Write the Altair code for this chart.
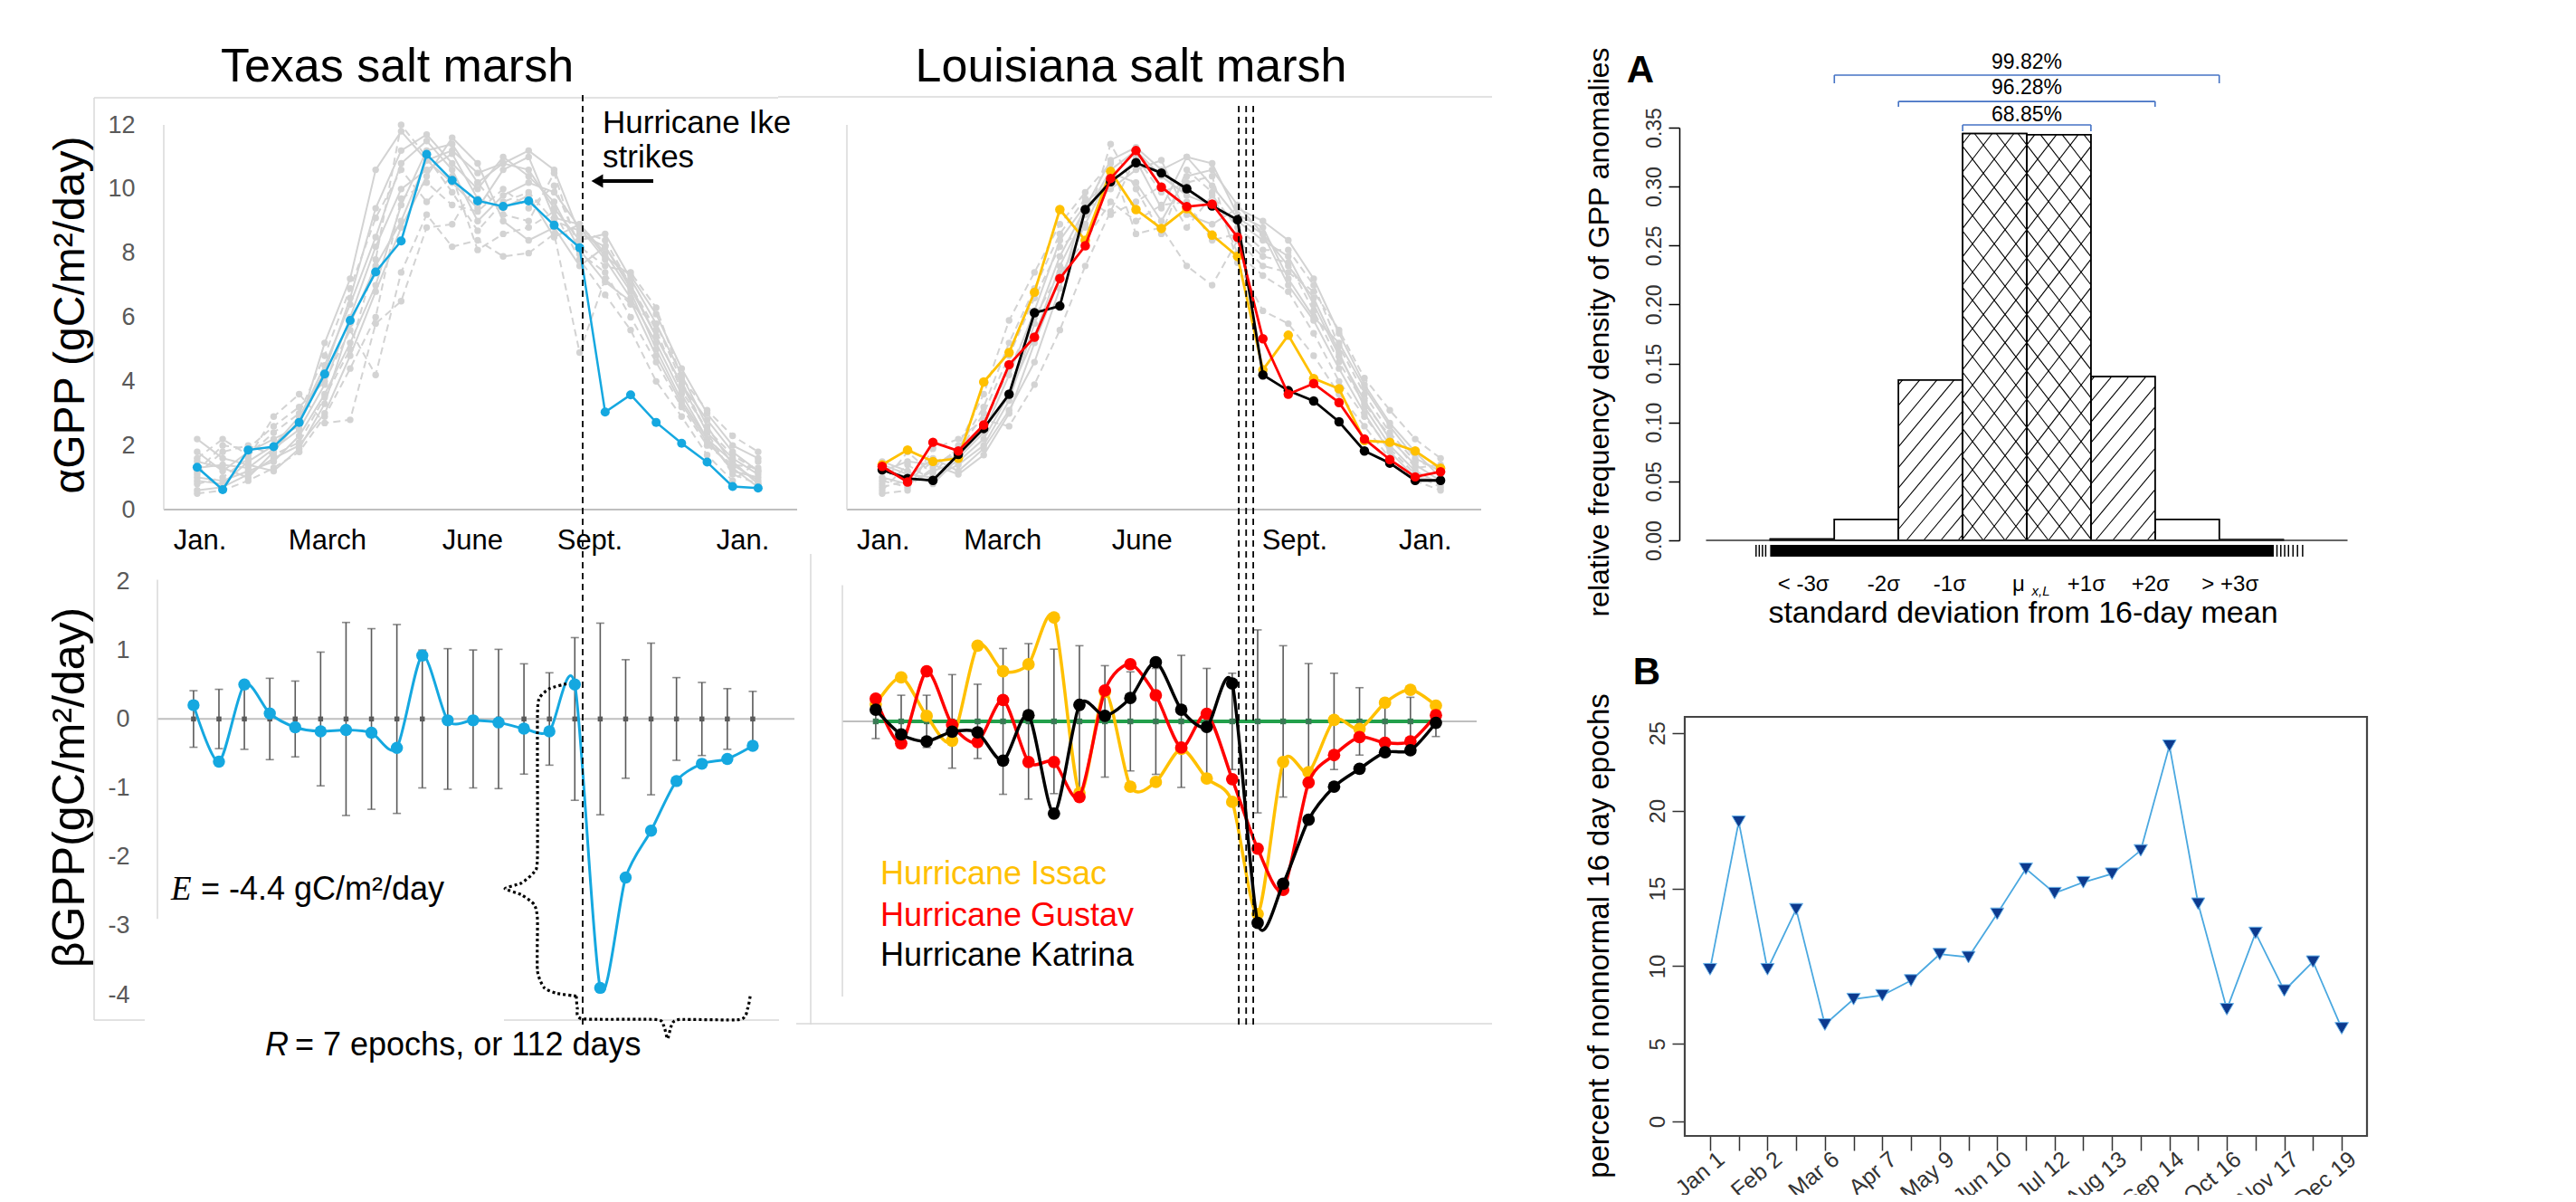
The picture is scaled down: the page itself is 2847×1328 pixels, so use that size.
import math
import altair as alt
import pandas as pd

W, H = 2831, 1312
SANS = "Liberation Sans, Arial, Helvetica, sans-serif"
NARROW = "Liberation Sans Narrow, Liberation Sans, Arial, sans-serif"
SERIF = "Liberation Serif, Times New Roman, serif"

BLUE = "#15a8e0"
GOLD = "#ffc000"
RED = "#ff0000"
BLACK = "#000000"
GRAY_LINE = "#d3d3d3"
ERR_GRAY = "#5a5a5a"
AXIS_GRAY = "#bfbfbf"
FRAME_GRAY = "#d9d9d9"
GREEN = "#22a04b"
BRACKET_BLUE = "#4472c4"

EPOCHS = list(range(23))

# ---------------- Texas salt marsh : alpha GPP ----------------
TX_ALPHA_IKE = [1.32, 0.62, 1.86, 1.96, 2.72, 4.23, 5.9, 7.41, 8.38, 11.08, 10.27, 9.63,
                9.46, 9.63, 8.87, 8.17, 3.04, 3.58, 2.72, 2.07, 1.48, 0.72, 0.67]
TX_ALPHA_YEARS_SOLID = [
    [1.0, 0.9, 1.2, 1.5, 2.3, 3.6, 5.2, 7.0, 9.5, 11.2, 11.4, 10.2, 10.8, 10.6, 9.4, 8.4, 8.6, 7.2, 5.8, 4.2, 2.6, 1.4, 0.9],
    [1.5, 1.3, 1.0, 1.8, 2.8, 4.5, 6.4, 8.5, 10.8, 11.5, 10.6, 9.0, 9.8, 10.2, 9.9, 8.8, 7.8, 6.6, 5.2, 3.6, 2.2, 1.2, 1.0],
    [0.6, 0.7, 1.1, 1.6, 2.0, 3.0, 4.8, 6.8, 8.8, 10.4, 11.6, 10.8, 9.0, 8.4, 8.8, 7.6, 8.2, 6.9, 5.4, 3.9, 2.8, 1.8, 1.2],
    [2.2, 1.6, 1.4, 1.2, 1.9, 3.3, 5.8, 7.6, 9.0, 10.9, 10.2, 9.4, 10.6, 11.0, 9.1, 8.9, 7.9, 7.3, 6.1, 4.4, 3.0, 2.0, 1.6],
    [1.8, 1.2, 1.8, 2.2, 2.6, 5.2, 7.2, 10.6, 11.8, 10.9, 11.2, 10.5, 10.8, 11.2, 10.6, 8.6, 8.2, 7.0, 5.4, 3.9, 2.4, 1.6, 1.1],
    [1.3, 1.4, 1.3, 1.9, 2.5, 3.9, 6.0, 8.2, 10.0, 10.6, 11.1, 9.7, 9.4, 9.8, 8.5, 8.9, 8.0, 6.8, 5.0, 3.4, 2.2, 1.5, 0.8],
    [0.9, 0.8, 1.5, 2.0, 2.9, 4.3, 6.6, 9.4, 11.2, 11.7, 10.8, 10.0, 11.0, 10.4, 9.6, 8.1, 7.1, 6.5, 4.8, 3.3, 2.1, 1.3, 0.7],
]
TX_ALPHA_YEARS_DASHED = [
    [1.2, 2.0, 1.9, 2.6, 3.2, 4.0, 5.6, 4.2, 7.4, 9.2, 8.2, 8.4, 7.9, 8.0, 8.6, 4.9, 7.2, 6.4, 5.8, 4.0, 2.4, 1.1, 0.8],
    [0.8, 1.0, 1.6, 2.9, 3.6, 2.7, 2.8, 5.8, 6.5, 8.8, 8.9, 10.2, 9.2, 9.0, 10.5, 8.0, 7.4, 6.0, 4.6, 3.2, 2.0, 1.4, 1.3],
    [0.5, 0.6, 0.9, 1.3, 1.8, 2.9, 4.4, 6.0, 9.7, 10.2, 9.5, 9.3, 10.0, 9.4, 10.1, 8.2, 7.6, 7.4, 6.3, 4.1, 3.1, 2.3, 1.8],
    [1.6, 2.2, 1.7, 2.4, 3.0, 4.8, 6.9, 9.1, 10.6, 9.6, 10.4, 8.1, 8.6, 8.8, 9.3, 7.8, 6.7, 5.6, 4.0, 2.9, 1.7, 0.9, 1.5],
    [1.1, 1.8, 2.0, 1.7, 2.1, 3.5, 5.0, 7.8, 12.0, 11.0, 9.9, 8.7, 9.6, 9.9, 9.0, 8.7, 8.4, 7.0, 5.6, 3.7, 2.5, 1.7, 1.2],
]
# ---------------- Texas salt marsh : beta GPP ----------------
TX_BETA_IKE = [0.2, -0.62, 0.5, 0.08, -0.12, -0.18, -0.16, -0.2, -0.42, 0.92, -0.02, -0.02,
               -0.05, -0.14, -0.18, 0.5, -3.9, -2.3, -1.62, -0.9, -0.65, -0.58, -0.39]
TX_BETA_MEAN = [0, 0, 0, 0, 0, 0, 0, 0, 0, 0, 0, 0, 0, 0, 0, 0, 0, 0, 0, 0, 0, 0, 0]
TX_BETA_SD = [0.41, 0.43, 0.44, 0.59, 0.55, 0.97, 1.4, 1.31, 1.37, 1.0, 1.02, 1.0,
              1.01, 0.8, 0.67, 1.18, 1.39, 0.86, 1.1, 0.6, 0.53, 0.44, 0.4]

# ---------------- Louisiana salt marsh : alpha GPP ----------------
LA_ALPHA_ISAAC = [1.4, 1.86, 1.5, 1.6, 3.98, 4.9, 6.78, 9.36, 8.4, 10.55, 9.36, 8.77,
                  9.39, 8.56, 7.9, 4.36, 5.44, 4.09, 3.77, 2.15, 2.1, 1.83, 1.29]
LA_ALPHA_GUSTAV = [1.35, 0.86, 2.1, 1.83, 2.64, 4.52, 5.38, 7.21, 8.23, 10.33, 11.2, 10.06,
                   9.45, 9.53, 8.5, 5.33, 3.6, 3.93, 3.34, 2.2, 1.56, 1.02, 1.18]
LA_ALPHA_KATRINA = [1.24, 0.97, 0.91, 1.72, 2.53, 3.6, 6.14, 6.35, 9.36, 10.23, 10.82, 10.5,
                    10.01, 9.47, 9.04, 4.2, 3.71, 3.39, 2.74, 1.83, 1.45, 0.91, 0.91]
LA_ALPHA_YEARS_SOLID = [
    [1.0, 0.8, 1.2, 1.5, 2.2, 3.6, 5.4, 7.6, 9.2, 10.6, 11.2, 10.4, 9.8, 9.5, 9.0, 8.4, 7.9, 6.4, 4.8, 3.4, 2.2, 1.4, 0.9],
    [1.3, 1.0, 1.6, 1.2, 1.9, 3.1, 4.6, 6.9, 9.6, 10.2, 10.9, 9.4, 11.0, 10.8, 9.2, 8.8, 7.2, 6.0, 5.2, 3.8, 2.6, 1.6, 1.2],
    [1.5, 1.2, 0.8, 1.6, 2.4, 4.2, 6.2, 8.4, 9.5, 10.0, 10.6, 10.9, 9.2, 8.9, 9.4, 9.0, 8.4, 7.2, 5.5, 3.9, 2.7, 1.8, 1.0],
    [1.2, 1.5, 1.4, 1.1, 1.7, 3.0, 5.2, 7.2, 8.9, 10.5, 10.2, 9.0, 10.4, 10.6, 9.5, 8.6, 7.6, 6.6, 4.9, 3.2, 2.0, 1.2, 0.8],
    [1.4, 1.1, 1.0, 1.4, 2.0, 3.4, 5.8, 7.9, 9.4, 10.9, 11.3, 10.6, 11.0, 10.1, 9.1, 8.6, 7.0, 5.9, 4.4, 3.0, 1.8, 1.0, 0.9],
]
LA_ALPHA_YEARS_DASHED = [
    [0.6, 1.4, 0.9, 1.8, 3.0, 4.8, 6.6, 8.2, 8.8, 11.4, 10.0, 8.6, 10.6, 9.9, 8.0, 7.3, 6.8, 5.5, 4.0, 2.9, 1.9, 1.1, 0.7],
    [0.8, 1.8, 1.1, 2.0, 3.6, 5.9, 7.4, 8.9, 9.9, 10.8, 8.6, 8.8, 7.6, 7.0, 8.4, 7.6, 7.4, 6.8, 5.6, 4.1, 3.1, 2.2, 1.6],
    [0.5, 0.6, 1.9, 2.2, 2.8, 2.6, 3.9, 5.6, 7.6, 9.3, 11.0, 9.9, 10.2, 10.4, 7.7, 6.2, 5.8, 4.8, 3.6, 2.6, 1.6, 0.9, 0.6],
    [0.9, 0.7, 1.3, 1.9, 3.2, 5.2, 6.9, 8.6, 9.7, 9.2, 9.6, 10.1, 8.8, 9.8, 8.8, 8.1, 8.1, 7.0, 5.1, 3.6, 2.4, 1.5, 1.3],
    [0.7, 0.9, 1.5, 1.7, 2.6, 4.4, 6.0, 7.4, 8.4, 9.6, 9.0, 9.5, 9.6, 8.4, 8.6, 7.9, 7.7, 6.2, 4.6, 3.3, 2.3, 1.3, 1.4],
]
# ---------------- Louisiana salt marsh : beta GPP ----------------
LA_BETA_ISAAC = [0.25, 0.64, 0.08, -0.28, 1.1, 0.73, 0.83, 1.51, -1.04, 0.43, -0.95, -0.88,
                 -0.4, -0.83, -1.17, -2.8, -0.59, -0.74, 0.02, -0.11, 0.27, 0.46, 0.23]
LA_BETA_GUSTAV = [0.33, -0.32, 0.73, -0.05, -0.3, 0.31, -0.59, -0.59, -1.1, 0.45, 0.83, 0.38,
                  -0.38, 0.11, -0.84, -1.85, -2.45, -0.89, -0.49, -0.23, -0.31, -0.29, 0.09]
LA_BETA_KATRINA = [0.17, -0.19, -0.29, -0.15, -0.16, -0.57, 0.09, -1.34, 0.24, 0.08, 0.34, 0.86,
                   0.17, -0.08, 0.55, -2.93, -2.36, -1.43, -0.95, -0.69, -0.45, -0.42, -0.02]
LA_BETA_MEAN = [0, 0, 0, 0, 0, 0, 0, 0, 0, 0, 0, 0, 0, 0, 0, 0, 0, 0, 0, 0, 0, 0, 0]
LA_BETA_SD = [0.25, 0.38, 0.38, 0.68, 0.54, 1.06, 1.13, 1.05, 1.1, 0.81, 0.72, 0.77,
              0.96, 0.77, 0.7, 1.33, 1.1, 0.84, 0.7, 0.49, 0.33, 0.35, 0.22]

MONTH_LABELS = ["Jan.", "March", "June", "Sept.", "Jan."]
TX_MONTH_POS = [0.11, 5.11, 10.8, 15.4, 21.4]
LA_MONTH_POS = [0.05, 4.75, 10.24, 16.25, 21.4]
TX_IKE_EPOCH = [15.12]
LA_STRIKE_EPOCHS = [14.05, 14.34, 14.62]
LA_NAMES = ["Hurricane Issac", "Hurricane Gustav", "Hurricane Katrina"]

# brace annotations (in Texas beta panel units: epoch, gC/m2/day)
BRACE_E_X = [14.67, 14.0, 13.6, 13.53, 13.53, 13.4, 12.9, 12.25, 12.9, 13.4, 13.53, 13.53, 13.8, 14.3, 15.06]
BRACE_E_Y = [0.51, 0.44, 0.3, 0.0, -2.0, -2.22, -2.38, -2.46, -2.55, -2.69, -2.9, -3.65, -3.9, -3.98, -4.02]
BRACE_R_X = [15.06, 15.1, 15.3, 18.2, 18.5, 18.65, 18.8, 19.1, 21.5, 21.8, 21.9]
BRACE_R_Y = [-4.02, -4.2, -4.35, -4.36, -4.45, -4.64, -4.45, -4.36, -4.36, -4.2, -4.02]

# ---------------- Panel A : histogram ----------------
HIST_LO = [-4, -3, -2, -1, 0, 1, 2, 3]
HIST_HI = [-3, -2, -1, 0, 1, 2, 3, 4]
HIST_DENSITY = [0.0012, 0.0178, 0.136, 0.345, 0.344, 0.139, 0.0178, 0.0006]
HIST_FILL = ["plain", "plain", "diagonal", "cross", "cross", "diagonal", "plain", "plain"]
SIGMA_LABELS = ["< -3σ", "-2σ", "-1σ", "μ", "+1σ", "+2σ", "> +3σ"]
SIGMA_POS = [-3.48, -2.23, -1.2, -0.13, 0.93, 1.93, 3.17]
BRACKET_TEXT = ["99.82%", "96.28%", "68.85%"]
BRACKET_HALF = [3, 2, 1]
BRACKET_Y = [0.3945, 0.3722, 0.3523]
BRACKET_END_Y = [0.3876, 0.3676, 0.3469]
BRACKET_TEXT_Y = [0.405, 0.3838, 0.3609]
RUG_BAND = [-4.0, 3.85]
RUG_FRINGE = [-4.22, -4.17, -4.12, -4.07, 3.9, 3.96, 4.02, 4.08, 4.15, 4.22, 4.3]
A_YTICKS = [0.0, 0.05, 0.1, 0.15, 0.2, 0.25, 0.3, 0.35]

# ---------------- Panel B ----------------
B_PERCENT = [9.8, 19.3, 9.8, 13.66, 6.24, 7.88, 8.12, 9.08, 10.77, 10.58, 13.37, 16.27,
             14.7, 15.4, 15.95, 17.45, 24.19, 14.02, 7.23, 12.14, 8.43, 10.29, 6.0]
B_TICK_LABELS = ["Jan 1", "", "Feb 2", "", "Mar 6", "", "Apr 7", "", "May 9", "", "Jun 10", "",
                 "Jul 12", "", "Aug 13", "", "Sep 14", "", "Oct 16", "", "Nov 17", "", "Dec 19"]
B_YTICKS = [0, 5, 10, 15, 20, 25]

# =====================================================================
ONE = pd.DataFrame({"a": [0]})


def S(dom, rng):
    return alt.Scale(domain=dom, range=rng, nice=False, zero=False)


TXT_SX = S([-1.31, 23.53], [173, 873]); TXT_SY = S([0, 12], [555, 130])
LAT_SX = S([-1.39, 23.6], [928, 1629]); LAT_SY = S([0, 12], [555, 130])
TXB_SX = S([-1.42, 23.64], [166, 870]); TXB_SY = S([-4, 2], [1091, 634])
LAB_SX = S([-1.31, 23.6], [923, 1624]); LAB_SY = S([-4, 2], [1093, 637])
A_DX, A_RX = [-5, 5], [1877.5, 2586.5]
A_DY, A_RY = [0, 0.35], [589, 133]
A_SX = S(A_DX, A_RX); A_SY = S(A_DY, A_RY)
B_SX = S([-0.88, 22.88], [1854, 2608]); B_SY = S([-0.93, 26.05], [1247, 784])


def XY(sx, sy, xf="x", yf="y", xaxis=None, yaxis=None):
    return {"x": alt.X(f"{xf}:Q", scale=sx, axis=xaxis),
            "y": alt.Y(f"{yf}:Q", scale=sy, axis=yaxis)}


def series_df(xs, ys):
    return pd.DataFrame({"x": xs, "y": ys})


def long_df(list_of_series):
    rows = []
    for k, s in enumerate(list_of_series):
        for i, v in enumerate(s):
            rows.append({"s": k, "x": i, "y": v})
    return pd.DataFrame(rows)


def px_rule(x, x2, y, y2, color, width, dash=None):
    kw = dict(color=color, strokeWidth=width)
    if dash:
        kw["strokeDash"] = dash
    return alt.Chart(ONE).mark_rule(**kw).encode(
        x=alt.value(x), x2=alt.value(x2), y=alt.value(y), y2=alt.value(y2))


def data_rule(df, sx, sy, color, width, dash=None):
    kw = dict(color=color, strokeWidth=width)
    if dash:
        kw["strokeDash"] = dash
    return alt.Chart(df).mark_rule(**kw).encode(**XY(sx, sy), x2="x2:Q", y2="y2:Q")


def px_text(s, x, y, size, align="left", baseline="alphabetic", angle=0, color="black",
            font=SANS, style="normal", weight="normal"):
    kw = dict(text=s, fontSize=size, align=align, baseline=baseline, color=color,
              font=font, fontStyle=style, fontWeight=weight)
    if angle:
        kw["angle"] = angle
    return alt.Chart(ONE).mark_text(**kw).encode(x=alt.value(x), y=alt.value(y))


layers = []

# ---------------- frames (Excel chart borders) ----------------
layers += [
    px_rule(96, 852, 100, 100, FRAME_GRAY, 1.5),
    px_rule(852, 1641, 99, 99, FRAME_GRAY, 1.5),
    px_rule(96, 96, 100, 1119, FRAME_GRAY, 1.5),
    px_rule(96, 152, 1119, 1119, FRAME_GRAY, 1.5),
    px_rule(549, 853, 1119, 1119, FRAME_GRAY, 1.5),
    px_rule(872, 1641, 1123, 1123, FRAME_GRAY, 1.5),
    px_rule(888, 888, 604, 1124, FRAME_GRAY, 1.5),
]

# ---------------- axis lines of the four left panels ----------------
layers += [
    data_rule(pd.DataFrame({"x": [-1.31], "x2": [23.53], "y": [0], "y2": [0]}), TXT_SX, TXT_SY, AXIS_GRAY, 2),
    data_rule(pd.DataFrame({"x": [-1.31], "x2": [-1.31], "y": [0], "y2": [12]}), TXT_SX, TXT_SY, FRAME_GRAY, 1.5),
    data_rule(pd.DataFrame({"x": [-1.39], "x2": [23.6], "y": [0], "y2": [0]}), LAT_SX, LAT_SY, AXIS_GRAY, 2),
    data_rule(pd.DataFrame({"x": [-1.39], "x2": [-1.39], "y": [0], "y2": [12]}), LAT_SX, LAT_SY, FRAME_GRAY, 1.5),
    data_rule(pd.DataFrame({"x": [-1.42], "x2": [23.64], "y": [0], "y2": [0]}), TXB_SX, TXB_SY, AXIS_GRAY, 2),
    data_rule(pd.DataFrame({"x": [-1.42], "x2": [-1.42], "y": [2.02], "y2": [-2.9]}), TXB_SX, TXB_SY, FRAME_GRAY, 1.5),
    data_rule(pd.DataFrame({"x": [-1.31], "x2": [23.6], "y": [0], "y2": [0]}), LAB_SX, LAB_SY, AXIS_GRAY, 2),
    data_rule(pd.DataFrame({"x": [-1.31], "x2": [-1.31], "y": [1.98], "y2": [-4.0]}), LAB_SX, LAB_SY, FRAME_GRAY, 1.5),
]


def gray_bundle(solid, dashed, sx, sy):
    out = []
    ds = long_df(solid)
    dd = long_df(dashed)
    out.append(alt.Chart(ds).mark_line(color=GRAY_LINE, strokeWidth=2).encode(**XY(sx, sy), detail="s:N"))
    out.append(alt.Chart(dd).mark_line(color=GRAY_LINE, strokeWidth=2, strokeDash=[8, 5]).encode(**XY(sx, sy), detail="s:N"))
    out.append(alt.Chart(pd.concat([ds, dd])).mark_circle(color=GRAY_LINE, size=55, opacity=1).encode(**XY(sx, sy)))
    return out


# ---------------- Texas top ----------------
layers += gray_bundle(TX_ALPHA_YEARS_SOLID, TX_ALPHA_YEARS_DASHED, TXT_SX, TXT_SY)
tx_top_yaxis = alt.Axis(orient="left", offset=-173, values=[0, 2, 4, 6, 8, 10, 12], domain=False,
                        ticks=False, tickSize=0, grid=False, labelPadding=32, labelFontSize=27,
                        labelColor="#595959", labelFont=NARROW, labelAlign="right",
                        labelBaseline="middle", title=None, labelExpr="datum.value + ''")
df = series_df(EPOCHS, TX_ALPHA_IKE)
layers.append(alt.Chart(df).mark_line(color=BLUE, strokeWidth=2.5).encode(**XY(TXT_SX, TXT_SY)))
layers.append(alt.Chart(df).mark_circle(color=BLUE, size=100, opacity=1).encode(**XY(TXT_SX, TXT_SY, yaxis=tx_top_yaxis)))

# ---------------- Louisiana top ----------------
layers += gray_bundle(LA_ALPHA_YEARS_SOLID, LA_ALPHA_YEARS_DASHED, LAT_SX, LAT_SY)
for ys, col in [(LA_ALPHA_ISAAC, GOLD), (LA_ALPHA_KATRINA, BLACK), (LA_ALPHA_GUSTAV, RED)]:
    df = series_df(EPOCHS, ys)
    layers.append(alt.Chart(df).mark_line(color=col, strokeWidth=2.8).encode(**XY(LAT_SX, LAT_SY)))
    layers.append(alt.Chart(df).mark_circle(color=col, size=110, opacity=1).encode(**XY(LAT_SX, LAT_SY)))


def error_bars(means, sds, sx, sy):
    d = pd.DataFrame({"x": EPOCHS, "y": [m - s for m, s in zip(means, sds)],
                      "y2": [m + s for m, s in zip(means, sds)], "m": means})
    out = [alt.Chart(d).mark_rule(color=ERR_GRAY, strokeWidth=1.6).encode(**XY(sx, sy), y2="y2:Q")]
    ends = pd.DataFrame({"x": EPOCHS + EPOCHS, "y": list(d["y"]) + list(d["y2"])})
    out.append(alt.Chart(ends).mark_tick(orient="horizontal", size=9, thickness=1.6, color=ERR_GRAY).encode(**XY(sx, sy)))
    return out, d


# ---------------- Texas bottom ----------------
eb, d = error_bars(TX_BETA_MEAN, TX_BETA_SD, TXB_SX, TXB_SY)
layers += eb
layers.append(alt.Chart(series_df(EPOCHS, TX_BETA_MEAN)).mark_square(color=ERR_GRAY, size=30, opacity=1).encode(**XY(TXB_SX, TXB_SY)))
tx_bot_yaxis = alt.Axis(orient="left", offset=-166, values=[-4, -3, -2, -1, 0, 1, 2], domain=False,
                        ticks=False, tickSize=0, grid=False, labelPadding=31, labelFontSize=27,
                        labelColor="#595959", labelFont=NARROW, labelAlign="right",
                        labelBaseline="middle", title=None, labelExpr="datum.value + ''")
df = series_df(EPOCHS, TX_BETA_IKE)
layers.append(alt.Chart(df).mark_line(color=BLUE, strokeWidth=3, interpolate="cardinal", tension=0.2).encode(**XY(TXB_SX, TXB_SY)))
layers.append(alt.Chart(df).mark_circle(color=BLUE, size=180, opacity=1).encode(**XY(TXB_SX, TXB_SY, yaxis=tx_bot_yaxis)))

# ---------------- Louisiana bottom ----------------
eb, d = error_bars(LA_BETA_MEAN, LA_BETA_SD, LAB_SX, LAB_SY)
layers += eb
dm = series_df(EPOCHS, LA_BETA_MEAN)
layers.append(alt.Chart(dm).mark_line(color=GREEN, strokeWidth=4).encode(**XY(LAB_SX, LAB_SY)))
layers.append(alt.Chart(dm).mark_square(color="#3a7a55", size=40, opacity=1).encode(**XY(LAB_SX, LAB_SY)))
for ys, col in [(LA_BETA_ISAAC, GOLD), (LA_BETA_GUSTAV, RED), (LA_BETA_KATRINA, BLACK)]:
    df = series_df(EPOCHS, ys)
    layers.append(alt.Chart(df).mark_line(color=col, strokeWidth=3.5, interpolate="cardinal", tension=0.2).encode(**XY(LAB_SX, LAB_SY)))
    layers.append(alt.Chart(df).mark_circle(color=col, size=190, opacity=1).encode(**XY(LAB_SX, LAB_SY)))

# ---------------- hurricane strike lines ----------------
layers.append(alt.Chart(pd.DataFrame({"x": TX_IKE_EPOCH})).mark_rule(color="black", strokeWidth=1.8, strokeDash=[7, 5]).encode(
    x=alt.X("x:Q", scale=TXT_SX, axis=None), y=alt.value(97), y2=alt.value(1124)))
layers.append(alt.Chart(pd.DataFrame({"x": LA_STRIKE_EPOCHS})).mark_rule(color="black", strokeWidth=1.8, strokeDash=[7, 5]).encode(
    x=alt.X("x:Q", scale=LAT_SX, axis=None), y=alt.value(109), y2=alt.value(1124)))

# ---------------- braces ----------------
brace = pd.DataFrame({"x": BRACE_E_X + BRACE_R_X, "y": BRACE_E_Y + BRACE_R_Y,
                      "s": [0] * len(BRACE_E_X) + [1] * len(BRACE_R_X),
                      "o": list(range(len(BRACE_E_X))) + list(range(len(BRACE_R_X)))})
layers.append(alt.Chart(brace).mark_line(color="black", strokeWidth=3.2, strokeDash=[3, 3],
                                         interpolate="cardinal", tension=0.4).encode(
    **XY(TXB_SX, TXB_SY), detail="s:N", order="o:Q"))

# ---------------- month labels ----------------
layers.append(alt.Chart(pd.DataFrame({"x": TX_MONTH_POS, "t": MONTH_LABELS})).mark_text(
    fontSize=31, font=SANS, baseline="alphabetic").encode(x=alt.X("x:Q", scale=TXT_SX, axis=None), y=alt.value(599), text="t:N"))
layers.append(alt.Chart(pd.DataFrame({"x": LA_MONTH_POS, "t": MONTH_LABELS})).mark_text(
    fontSize=31, font=SANS, baseline="alphabetic").encode(x=alt.X("x:Q", scale=LAT_SX, axis=None), y=alt.value(599), text="t:N"))

# ---------------- Panel A ----------------
A_KX = (A_RX[1] - A_RX[0]) / (A_DX[1] - A_DX[0])
A_KY = (A_RY[0] - A_RY[1]) / (A_DY[1] - A_DY[0])


def hatch(lo, hi, h, direction, slope, step):
    X0, X1, Hp = lo * A_KX, hi * A_KX, h * A_KY
    span = Hp / slope
    rows = []
    k0 = int(math.floor((X0 - span) / step)) - 1
    k1 = int(math.ceil((X1 + span) / step)) + 1
    for k in range(k0, k1 + 1):
        xb = k * step
        if direction > 0:
            a, b = max(xb, X0), min(xb + span, X1)
            if b - a > 0.5:
                rows.append((a / A_KX, b / A_KX, slope * (a - xb) / A_KY, slope * (b - xb) / A_KY))
        else:
            a, b = max(xb - span, X0), min(xb, X1)
            if b - a > 0.5:
                rows.append((a / A_KX, b / A_KX, slope * (xb - a) / A_KY, slope * (xb - b) / A_KY))
    return rows


hrows = []
for lo, hi, h, f in zip(HIST_LO, HIST_HI, HIST_DENSITY, HIST_FILL):
    if f == "diagonal":
        hrows += hatch(lo, hi, h, 1, 1.2, 19)
    elif f == "cross":
        hrows += hatch(lo, hi, h, 1, 1.3, 24)
        hrows += hatch(lo, hi, h, -1, 1.3, 24)
hatch_df = pd.DataFrame(hrows, columns=["x", "x2", "y", "y2"])

a_yaxis = alt.Axis(orient="left", offset=-1848, values=A_YTICKS, format=".2f", tickSize=12,
                   domain=True, domainColor="black", domainWidth=1.5, tickColor="black", tickWidth=1.5,
                   labelAngle=270, labelAlign="center", labelBaseline="bottom", labelPadding=4,
                   labelFontSize=23, labelColor="#333333", labelFont=SANS, grid=False, title=None)
bars = pd.DataFrame({"x": HIST_LO, "x2": HIST_HI, "y": HIST_DENSITY, "y2": [0.0] * len(HIST_LO)})
layers.append(alt.Chart(bars).mark_rect(fill="white", stroke="black", strokeWidth=1.5).encode(
    **XY(A_SX, A_SY, yaxis=a_yaxis), x2="x2:Q", y2="y2:Q"))
layers.append(data_rule(hatch_df, A_SX, A_SY, "black", 1.1))
layers.append(alt.Chart(bars).mark_rect(fillOpacity=0, stroke="black", strokeWidth=1.5).encode(
    **XY(A_SX, A_SY), x2="x2:Q", y2="y2:Q"))
layers.append(data_rule(pd.DataFrame({"x": [-5], "x2": [5], "y": [0], "y2": [0]}), A_SX, A_SY, "#333333", 1.5))
# rug
layers.append(alt.Chart(pd.DataFrame({"x": [RUG_BAND[0]], "x2": [RUG_BAND[1]], "y": [-0.0038], "y2": [-0.0138]})).mark_rect(
    color="black").encode(**XY(A_SX, A_SY), x2="x2:Q", y2="y2:Q"))
layers.append(alt.Chart(pd.DataFrame({"x": RUG_FRINGE, "y": [-0.0038] * len(RUG_FRINGE), "y2": [-0.0138] * len(RUG_FRINGE)})).mark_rule(
    color="black", strokeWidth=1.5).encode(**XY(A_SX, A_SY), y2="y2:Q"))
# brackets
br_h = pd.DataFrame({"x": [-h for h in BRACKET_HALF], "x2": BRACKET_HALF, "y": BRACKET_Y, "y2": BRACKET_Y})
br_e = pd.DataFrame({"x": [-h for h in BRACKET_HALF] + BRACKET_HALF,
                     "x2": [-h for h in BRACKET_HALF] + BRACKET_HALF,
                     "y": BRACKET_Y + BRACKET_Y, "y2": BRACKET_END_Y + BRACKET_END_Y})
layers.append(data_rule(br_h, A_SX, A_SY, BRACKET_BLUE, 1.6))
layers.append(data_rule(br_e, A_SX, A_SY, BRACKET_BLUE, 1.6))
layers.append(alt.Chart(pd.DataFrame({"x": [0, 0, 0], "y": BRACKET_TEXT_Y, "t": BRACKET_TEXT})).mark_text(
    fontSize=23, font=SANS, baseline="middle").encode(**XY(A_SX, A_SY), text="t:N"))
# sigma labels
layers.append(alt.Chart(pd.DataFrame({"x": SIGMA_POS, "t": SIGMA_LABELS})).mark_text(
    fontSize=24, font=SANS, baseline="alphabetic").encode(x=alt.X("x:Q", scale=A_SX, axis=None), y=alt.value(645), text="t:N"))
layers.append(alt.Chart(pd.DataFrame({"x": [0.22], "t": ["x,L"]})).mark_text(
    fontSize=15, font=SANS, fontStyle="italic", baseline="alphabetic").encode(x=alt.X("x:Q", scale=A_SX, axis=None), y=alt.value(650), text="t:N"))

# ---------------- Panel B ----------------
label_expr = "[" + ",".join("'" + s + "'" for s in B_TICK_LABELS) + "][datum.value]"
b_xaxis = alt.Axis(orient="bottom", offset=-65, values=EPOCHS, tickSize=16, tickColor="#333333",
                   tickWidth=1.5, domain=False, grid=False, labelExpr=label_expr, labelAngle=-40,
                   labelAlign="right", labelBaseline="middle", labelPadding=6, labelOffset=12,
                   labelFontSize=25, labelColor="#333333", labelFont=SANS, labelOverlap=False, title=None)
b_yaxis = alt.Axis(orient="left", offset=-1854, values=B_YTICKS, tickSize=14, tickColor="#333333",
                   tickWidth=1.5, domain=False, grid=False, labelAngle=270, labelAlign="center",
                   labelBaseline="bottom", labelPadding=4, labelFontSize=24, labelColor="#333333",
                   labelFont=SANS, title=None)
layers.append(alt.Chart(ONE).mark_rect(fillOpacity=0, stroke="#444444", strokeWidth=2.2).encode(
    x=alt.value(1854), x2=alt.value(2608), y=alt.value(784), y2=alt.value(1247)))
dfb = series_df(EPOCHS, B_PERCENT)
layers.append(alt.Chart(dfb).mark_line(color="#4aa8e0", strokeWidth=1.8).encode(**XY(B_SX, B_SY)))
layers.append(alt.Chart(dfb).mark_point(shape="triangle-down", filled=True, fill="#0d3a8e", stroke="#6ab4ea",
                                        strokeWidth=1, size=220, opacity=1).encode(
    **XY(B_SX, B_SY, xaxis=b_xaxis, yaxis=b_yaxis)))

# ---------------- texts ----------------
layers += [
    px_text("Texas salt marsh", 431, 82, 52, align="center"),
    px_text("Louisiana salt marsh", 1242, 82, 52, align="center"),
    px_text("αGPP (gC/m²/day)", 85, 340, 48, align="center", angle=270),
    px_text("βGPP(gC/m²/day)", 85, 862, 50, align="center", angle=270),
    px_text("Hurricane Ike", 658, 139, 35),
    px_text("strikes", 658, 177, 35),
    px_rule(656, 714, 192, 192, "black", 4),
    px_text("E", 181, 986, 37, font=SERIF, style="italic"),
    px_text("= -4.4 gC/m²/day", 214, 986, 36),
    px_text("R", 285, 1158, 36, style="italic"),
    px_text("= 7 epochs, or 112 days", 318, 1158, 36),
    px_text(LA_NAMES[0], 965, 969, 36, color=GOLD),
    px_text(LA_NAMES[1], 965, 1015, 36, color=RED),
    px_text(LA_NAMES[2], 965, 1059, 36, color=BLACK),
    px_text("A", 1805, 83, 42, align="center", weight="bold"),
    px_text("relative frequency density of GPP anomalies", 1770, 359, 32, align="center", angle=270),
    px_text("standard deviation from 16-day mean", 2228, 680, 34, align="center"),
    px_text("B", 1812, 748, 42, align="center", weight="bold"),
    px_text("percent of nonnormal 16 day epochs", 1770, 1026, 33, align="center", angle=270),
]
layers.append(alt.Chart(ONE).mark_point(shape="triangle-left", filled=True, color="black", size=220, opacity=1).encode(
    x=alt.value(652), y=alt.value(192)))

chart = alt.layer(*layers).resolve_scale(x="independent", y="independent").properties(
    width=W, height=H, autosize=alt.AutoSizeParams(type="none"), padding=0, background="white"
).configure_view(strokeOpacity=0)

chart.save("out.html", embed_options={"renderer": "svg", "actions": False})
